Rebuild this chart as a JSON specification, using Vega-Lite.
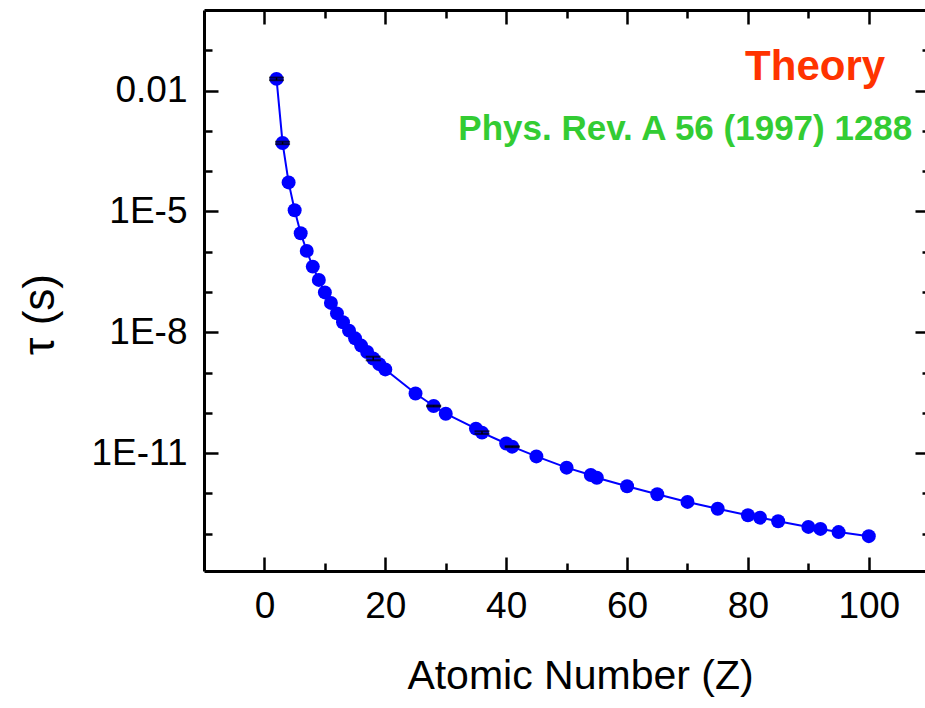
{
  "$schema": "https://vega.github.io/schema/vega-lite/v6.json",
  "width": 721,
  "height": 561,
  "autosize": "none",
  "padding": {"left": 204, "top": 10, "right": 0, "bottom": 137},
  "background": "white",
  "datasets": {
    "lifetimes": [
      {"Z": 2, "tau": 0.0195},
      {"Z": 3, "tau": 5.01e-4},
      {"Z": 4, "tau": 5.25e-5},
      {"Z": 5, "tau": 1.07e-5},
      {"Z": 6, "tau": 2.88e-6},
      {"Z": 7, "tau": 1.05e-6},
      {"Z": 8, "tau": 4.27e-7},
      {"Z": 9, "tau": 2.0e-7},
      {"Z": 10, "tau": 9.77e-8},
      {"Z": 11, "tau": 5.37e-8},
      {"Z": 12, "tau": 2.95e-8},
      {"Z": 13, "tau": 1.78e-8},
      {"Z": 14, "tau": 1.10e-8},
      {"Z": 15, "tau": 7.08e-9},
      {"Z": 16, "tau": 4.68e-9},
      {"Z": 17, "tau": 3.24e-9},
      {"Z": 18, "tau": 2.24e-9},
      {"Z": 19, "tau": 1.62e-9},
      {"Z": 20, "tau": 1.20e-9},
      {"Z": 25, "tau": 3.02e-10},
      {"Z": 28, "tau": 1.48e-10},
      {"Z": 30, "tau": 9.55e-11},
      {"Z": 35, "tau": 4.07e-11},
      {"Z": 36, "tau": 3.24e-11},
      {"Z": 40, "tau": 1.74e-11},
      {"Z": 41, "tau": 1.45e-11},
      {"Z": 45, "tau": 8.32e-12},
      {"Z": 50, "tau": 4.37e-12},
      {"Z": 54, "tau": 2.88e-12},
      {"Z": 55, "tau": 2.45e-12},
      {"Z": 60, "tau": 1.51e-12},
      {"Z": 65, "tau": 9.55e-13},
      {"Z": 70, "tau": 6.17e-13},
      {"Z": 75, "tau": 4.17e-13},
      {"Z": 80, "tau": 2.88e-13},
      {"Z": 82, "tau": 2.51e-13},
      {"Z": 85, "tau": 2.04e-13},
      {"Z": 90, "tau": 1.48e-13},
      {"Z": 92, "tau": 1.32e-13},
      {"Z": 95, "tau": 1.10e-13},
      {"Z": 100, "tau": 8.71e-14}
    ],
    "uncertainties": [
      {"Z": 2, "lo": 0.0181, "hi": 0.0210},
      {"Z": 3, "lo": 4.68e-4, "hi": 5.37e-4},
      {"Z": 18, "lo": 2.02e-9, "hi": 2.48e-9},
      {"Z": 28, "lo": 1.44e-10, "hi": 1.52e-10},
      {"Z": 36, "lo": 3.01e-11, "hi": 3.49e-11},
      {"Z": 41, "lo": 1.41e-11, "hi": 1.49e-11}
    ]
  },
  "resolve": {"axis": {"x": "independent", "y": "independent"}},
  "layer": [
    {
      "data": {"name": "lifetimes"},
      "mark": {"type": "line", "color": "#0000FF", "strokeWidth": 2},
      "encoding": {
        "x": {
          "field": "Z", "type": "quantitative",
          "scale": {"domain": [-10, 109.3], "nice": false, "zero": false},
          "axis": {
            "orient": "bottom", "values": [0, 20, 40, 60, 80, 100],
            "tickSize": -14, "labelPadding": 31, "labelBaseline": "top",
            "domain": true, "title": "Atomic Number (Z)",
            "titleFontSize": 41, "titleX": 376, "titleY": 117,
            "titleAlign": "center", "titleBaseline": "alphabetic"
          }
        },
        "y": {
          "field": "tau", "type": "quantitative",
          "scale": {"type": "log", "domain": [1.19e-14, 1], "nice": false},
          "axis": {
            "orient": "left", "values": [0.01, 1e-5, 1e-8, 1e-11],
            "labelExpr": "datum.value > 1e-3 ? '0.01' : datum.value > 1e-6 ? '1E-5' : datum.value > 1e-9 ? '1E-8' : '1E-11'",
            "tickSize": -14, "labelPadding": 31, "domain": true,
            "title": "τ (s)", "titleFontSize": 44, "titleAngle": 270,
            "titleX": -151, "titleY": 304, "titleAlign": "center",
            "titleBaseline": "alphabetic"
          }
        }
      }
    },
    {
      "data": {"name": "lifetimes"},
      "mark": {"type": "circle", "size": 195, "color": "#0000FF", "opacity": 1},
      "encoding": {
        "x": {
          "field": "Z", "type": "quantitative",
          "axis": {"orient": "bottom", "values": [10, 30, 50, 70, 90], "tickSize": -8, "labels": false, "domain": false, "title": null}
        },
        "y": {
          "field": "tau", "type": "quantitative",
          "axis": {"orient": "left", "values": [0.1, 0.001, 1e-4, 1e-6, 1e-7, 1e-9, 1e-10, 1e-12, 1e-13], "tickSize": -8, "labels": false, "domain": false, "title": null}
        }
      }
    },
    {
      "data": {"name": "uncertainties"},
      "mark": {"type": "rule", "color": "black", "strokeWidth": 1.5},
      "encoding": {
        "x": {
          "field": "Z", "type": "quantitative",
          "axis": {"orient": "top", "values": [0, 20, 40, 60, 80, 100], "tickSize": -14, "labels": false, "domain": true, "title": null}
        },
        "y": {
          "field": "lo", "type": "quantitative",
          "axis": {"orient": "right", "values": [0.01, 1e-5, 1e-8, 1e-11], "tickSize": -10, "labels": false, "domain": false, "title": null}
        },
        "y2": {"field": "hi"}
      }
    },
    {
      "data": {"name": "uncertainties"},
      "mark": {"type": "tick", "orient": "horizontal", "size": 15, "thickness": 2, "color": "black"},
      "encoding": {
        "x": {
          "field": "Z", "type": "quantitative",
          "axis": {"orient": "top", "values": [10, 30, 50, 70, 90], "tickSize": -8, "labels": false, "domain": false, "title": null}
        },
        "y": {
          "field": "lo", "type": "quantitative",
          "axis": {"orient": "right", "values": [0.1, 0.001, 1e-4, 1e-6, 1e-7, 1e-9, 1e-10, 1e-12, 1e-13], "tickSize": -3, "labels": false, "domain": false, "title": null}
        }
      }
    },
    {
      "data": {"name": "uncertainties"},
      "mark": {"type": "tick", "orient": "horizontal", "size": 15, "thickness": 2, "color": "black"},
      "encoding": {
        "x": {"field": "Z", "type": "quantitative", "axis": null},
        "y": {"field": "hi", "type": "quantitative", "axis": null}
      }
    },
    {
      "data": {"values": [{}]},
      "mark": {"type": "text", "align": "right", "baseline": "alphabetic", "font": "Liberation Sans", "fontWeight": "bold", "fontSize": 42, "color": "#FF3300"},
      "encoding": {
        "x": {"datum": 102.7, "type": "quantitative", "axis": null},
        "y": {"datum": 0.01845, "type": "quantitative", "axis": null},
        "text": {"value": "Theory"}
      }
    },
    {
      "data": {"values": [{}]},
      "mark": {"type": "text", "align": "right", "baseline": "alphabetic", "font": "Liberation Sans", "fontWeight": "bold", "fontSize": 35, "color": "#33CC33"},
      "encoding": {
        "x": {"datum": 107.2, "type": "quantitative", "axis": null},
        "y": {"datum": 5.96e-4, "type": "quantitative", "axis": null},
        "text": {"value": "Phys. Rev. A 56 (1997) 1288"}
      }
    }
  ],
  "config": {
    "view": {"stroke": null},
    "axis": {
      "grid": false,
      "domainColor": "black",
      "domainWidth": 3,
      "tickColor": "black",
      "tickWidth": 2.5,
      "labelFont": "Liberation Sans",
      "labelFontSize": 37,
      "labelColor": "black",
      "titleFont": "Liberation Sans",
      "titleColor": "black",
      "titleFontWeight": "normal"
    }
  }
}
